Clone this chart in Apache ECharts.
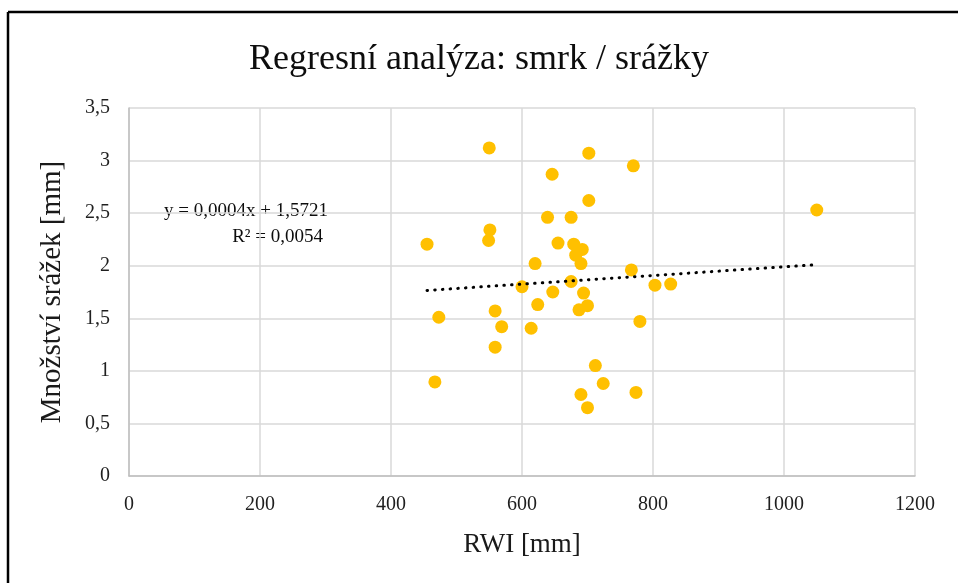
<!DOCTYPE html>
<html>
<head>
<meta charset="utf-8">
<script src="https://cdn.jsdelivr.net/npm/echarts@6/dist/echarts.min.js"></script>
<style>html,body{margin:0;padding:0;background:#fff}#c{width:958px;height:583px}</style>
</head>
<body>
<div id="c"></div>
<script>
const titleText = 'Regresní analýza: smrk / srážky';
const xName = 'RWI [mm]';
const yName = 'Množství srážek [mm]';
const rwi = [550, 702, 770, 646, 702, 639, 675, 551, 549, 455, 655, 679, 692, 682, 690, 620, 767, 600, 675, 647, 694, 803, 827, 624, 687, 700, 473, 559, 780, 569, 614, 559, 712, 467, 724, 690, 774, 700, 1050];
const srazky = [3.12, 3.07, 2.95, 2.87, 2.62, 2.46, 2.46, 2.34, 2.24, 2.205, 2.215, 2.205, 2.155, 2.10, 2.02, 2.02, 1.96, 1.80, 1.85, 1.75, 1.74, 1.815, 1.825, 1.63, 1.58, 1.62, 1.51, 1.57, 1.47, 1.42, 1.405, 1.225, 1.05, 0.895, 0.88, 0.775, 0.795, 0.65, 2.53];
const trendX = [455, 1050];
const trendY = [1.765, 2.01];
const eqLine1 = 'y = 0,0004x + 1,5721';
const eqLine2 = 'R² = 0,0054';

const font = '"Liberation Serif", "Times New Roman", serif';
const chart = echarts.init(document.getElementById('c'), null, {renderer: 'canvas'});
const fmtY = v => String(v).replace('.', ',');
const fmtX = v => String(v);
chart.setOption({
  backgroundColor: '#fff',
  animation: false,
  title: {
    text: titleText, left: 'center', top: 37,
    textStyle: {fontFamily: font, fontSize: 36, fontWeight: 'normal', color: '#0d0d0d'}
  },
  grid: {left: 129, right: 43, top: 108, bottom: 107},
  xAxis: {
    type: 'value', min: 0, max: 1200, interval: 200,
    name: xName, nameLocation: 'middle', nameGap: 55,
    nameTextStyle: {fontFamily: font, fontSize: 27, color: '#1a1a1a'},
    axisLine: {show: true, lineStyle: {color: '#bfbfbf', width: 1.5}},
    axisTick: {show: false},
    axisLabel: {fontFamily: font, fontSize: 20, color: '#1f1f1f', margin: 19, formatter: fmtX},
    splitLine: {show: true, lineStyle: {color: '#d9d9d9', width: 1.5}}
  },
  yAxis: {
    type: 'value', min: 0, max: 3.5, interval: 0.5,
    name: yName, nameLocation: 'middle', nameGap: 62, nameRotate: 90,
    nameTextStyle: {fontFamily: font, fontSize: 29, color: '#1a1a1a'},
    axisLine: {show: true, lineStyle: {color: '#bfbfbf', width: 1.5}},
    axisTick: {show: false},
    axisLabel: {fontFamily: font, fontSize: 20, color: '#1f1f1f', margin: 19, formatter: fmtY},
    splitLine: {show: true, lineStyle: {color: '#d9d9d9', width: 1.5}}
  },
  series: [
    {
      type: 'line', data: trendX.map((x, i) => [x, trendY[i]]),
      symbol: 'none', silent: true, z: 3,
      lineStyle: {color: '#000', width: 3, type: [0.5, 7.2], cap: 'round'}
    },
    {
      type: 'scatter', data: rwi.map((x, i) => [x, srazky[i]]),
      symbol: 'circle', symbolSize: 13, z: 2,
      itemStyle: {color: '#FFC000', opacity: 1}
    }
  ],
  graphic: [
    {type: 'line', shape: {x1: 8, y1: 12, x2: 958, y2: 12}, style: {stroke: '#000', lineWidth: 2.5}},
    {type: 'line', shape: {x1: 8, y1: 12, x2: 8, y2: 583}, style: {stroke: '#000', lineWidth: 2.5}},
    {type: 'text', x: 328, y: 211, style: {text: eqLine1, font: '19px ' + font, fill: '#0d0d0d', textAlign: 'right', textVerticalAlign: 'middle'}},
    {type: 'text', x: 323, y: 237, style: {text: eqLine2, font: '19px ' + font, fill: '#0d0d0d', textAlign: 'right', textVerticalAlign: 'middle'}}
  ]
});
</script>
</body>
</html>
